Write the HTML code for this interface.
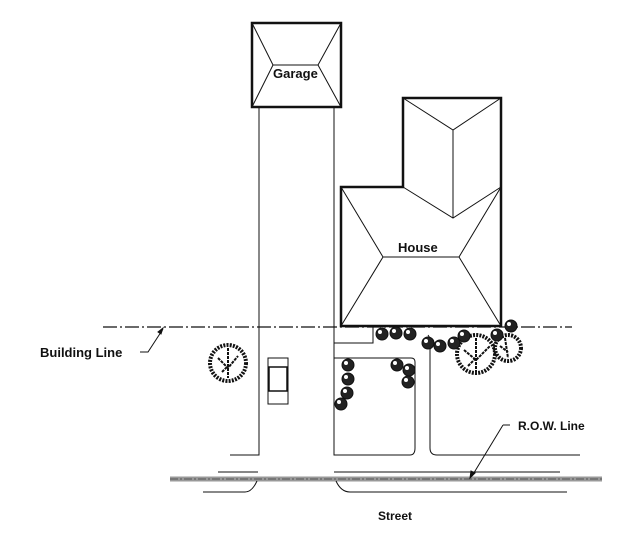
<!DOCTYPE html>
<html><head><style>body{margin:0;background:#fff}svg{display:block}text{font-family:"Liberation Sans",Arial,sans-serif;font-weight:bold;fill:#111}</style></head>
<body>
<svg width="634" height="536" viewBox="0 0 634 536" xmlns="http://www.w3.org/2000/svg">
<g fill="none" stroke="#111">
<rect x="252" y="23" width="89" height="84" stroke-width="2.5"/>
<g stroke-width="1">
<path d="M252 23 L273 65 L318 65 L341 23 M252 107 L273 65 M318 65 L341 107"/>
<path d="M259 107 V455 H230 M334 107 V455 H410 Q415 455 415 448 V362 Q415 358 411 358 H334 M334 343 H373 V327"/>
<path d="M428 335 Q432 340 430 350 V448 Q430 455 437 455 H580"/>
<rect x="268" y="358" width="20" height="46"/>
<rect x="269" y="367" width="18" height="24" stroke-width="1.5"/>
</g>
<path d="M341 187 H403 V98 H501 V326 H341 Z" stroke-width="2.5"/>
<g stroke-width="1">
<path d="M403 98 L453 130 L501 98 M453 130 V218 M403 187 L453 218 L501 187"/>
<path d="M341 187 L383 257 H459 L501 187 M341 326 L383 257 M459 257 L501 326"/>
</g>
<line x1="103" y1="327" x2="572" y2="327" stroke-width="1.2" stroke-dasharray="14 3 2 3"/>
<path d="M140 352 H148 L163 329" stroke-width="1"/>
<path d="M163 328 l-5 4 l3 2 z" fill="#111"/>
<line x1="170" y1="479" x2="602" y2="479" stroke="#999" stroke-width="5"/>
<line x1="170" y1="479" x2="602" y2="479" stroke="#555" stroke-width="1" stroke-dasharray="8 2 2 2"/>
<g stroke-width="1">
<path d="M218 472 H258 M334 472 H560"/>
<path d="M203 492 H245 Q252 492 257 481 M336 481 Q341 492 350 492 H567"/>
<path d="M503 425 H510 M503 425 L472 476"/>
</g>
<path d="M470 478 l1 -7 l4 2 z" fill="#111"/>
</g>
<g fill="#fff" stroke="#111" stroke-width="4" stroke-dasharray="2 1.2">
<circle cx="228" cy="363" r="18"/>
<circle cx="476" cy="354" r="19"/>
<circle cx="508" cy="348" r="13"/>
</g>
<g stroke="#111" stroke-width="2" fill="none" stroke-dasharray="3 1">
<path d="M228 348 V378 M218 358 L228 368 L238 356 M222 372 L228 366 M476 338 V372 M464 350 L476 360 L490 346 M468 366 L476 358 M505 338 L508 358 M500 346 L508 352"/>
</g>
<g fill="#222" stroke="#111">
<circle cx="382" cy="334" r="6"/><circle cx="396" cy="333" r="6"/><circle cx="410" cy="334" r="6"/>
<circle cx="428" cy="343" r="6"/><circle cx="440" cy="346" r="6"/><circle cx="454" cy="343" r="6"/><circle cx="464" cy="336" r="6"/>
<circle cx="497" cy="335" r="6"/><circle cx="511" cy="326" r="6"/>
<circle cx="348" cy="365" r="6"/><circle cx="348" cy="379" r="6"/><circle cx="347" cy="393" r="6"/><circle cx="341" cy="404" r="6"/>
<circle cx="397" cy="365" r="6"/><circle cx="409" cy="370" r="6"/><circle cx="408" cy="382" r="6"/>
</g>
<g fill="#fff">
<circle cx="380" cy="332" r="2"/><circle cx="394" cy="331" r="2"/><circle cx="408" cy="332" r="2"/><circle cx="426" cy="341" r="2"/><circle cx="438" cy="344" r="2"/><circle cx="452" cy="341" r="2"/><circle cx="462" cy="334" r="2"/><circle cx="495" cy="333" r="2"/><circle cx="509" cy="324" r="2"/><circle cx="346" cy="363" r="2"/><circle cx="346" cy="377" r="2"/><circle cx="345" cy="391" r="2"/><circle cx="339" cy="402" r="2"/><circle cx="395" cy="363" r="2"/><circle cx="407" cy="368" r="2"/><circle cx="406" cy="380" r="2"/>
</g>
<text x="273" y="78" font-size="13">Garage</text>
<text x="398" y="252" font-size="13">House</text>
<text x="40" y="357" font-size="13">Building Line</text>
<text x="518" y="430" font-size="12">R.O.W. Line</text>
<text x="378" y="520" font-size="12">Street</text>
</svg>
</body></html>
